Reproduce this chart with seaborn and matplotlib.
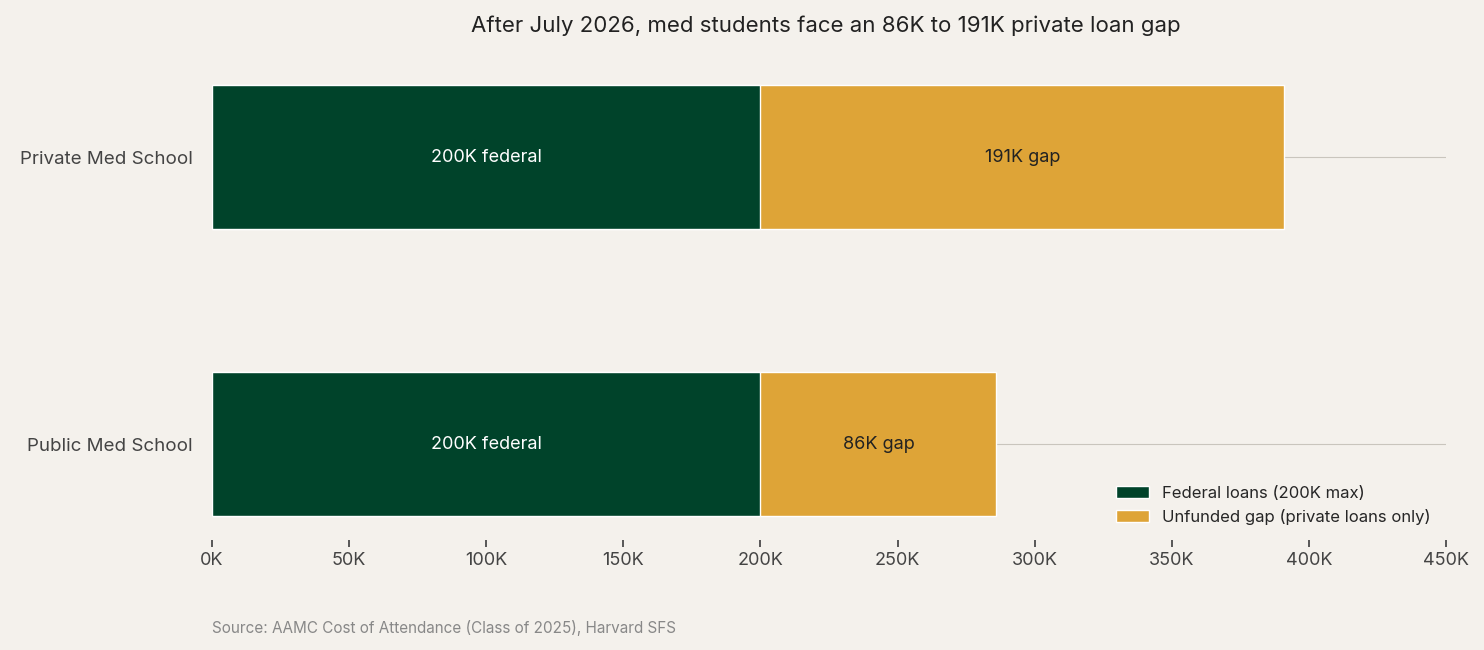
import matplotlib
matplotlib.use("Agg")
import matplotlib.pyplot as plt
import seaborn as sns
import pandas as pd

categories = ["Private Med School", "Public Med School"]
federal = [200, 200]
gap = [191, 86]
federal_labels = ["200K federal", "200K federal"]
gap_labels = ["191K gap", "86K gap"]
ticks = [0, 50, 100, 150, 200, 250, 300, 350, 400, 450]
tick_labels = [f"{t}K" for t in ticks]

sns.set_theme(style="white")
plt.rcParams['font.family'] = ['Inter', 'DejaVu Sans']
bg = "#f4f1ec"
green = "#00432a"
gold = "#dea437"

fig = plt.figure(figsize=(14.84, 6.5), dpi=100, facecolor=bg)
ax = fig.add_axes([0.1429, 0.169, 0.8315, 0.737], facecolor=bg)

df = pd.DataFrame({"cat": categories, "federal": federal, "total": [f + g for f, g in zip(federal, gap)]})
ax.grid(False)
for y in range(len(categories)):
    ax.axhline(y, color="#c9c5bd", lw=0.8, zorder=0)
sns.barplot(data=df, y="cat", x="total", color=gold, width=0.5, ax=ax, label="Unfunded gap (private loans only)", zorder=2, saturation=1)
sns.barplot(data=df, y="cat", x="federal", color=green, width=0.5, ax=ax, label="Federal loans (200K max)", zorder=3, saturation=1)
for i in range(len(categories)):
    ax.text(federal[i] / 2, i, federal_labels[i], color="white", ha="center", va="center", fontsize=13, zorder=5)
    ax.text(federal[i] + gap[i] / 2, i, gap_labels[i], color="#222222", ha="center", va="center", fontsize=13, zorder=5)

ax.set_xlim(0, 450)
ax.set_ylim(1.335, -0.335)
ax.set_xticks(ticks)
ax.set_xticklabels(tick_labels, fontsize=13, color="#444444")
ax.tick_params(axis="x", length=5, color="#444444", bottom=True)
ax.tick_params(axis="y", labelsize=13.5, colors="#444444", length=0, pad=14)
ax.set_xlabel("")
ax.set_ylabel("")
for s in ax.spines.values():
    s.set_visible(False)

h, l = ax.get_legend_handles_labels()
ax.legend(h[::-1], l[::-1], loc="lower right", frameon=False, fontsize=12, bbox_to_anchor=(1.0, 0.0))

fig.text(0.5565, 0.96, "After July 2026, med students face an 86K to 191K private loan gap",
         ha="center", va="center", fontsize=16, color="#222222")
fig.text(0.1429, 0.034, "Source: AAMC Cost of Attendance (Class of 2025), Harvard SFS",
         ha="left", va="center", fontsize=11, color="#888888")
fig.savefig("out.png", dpi=100, facecolor=bg)
